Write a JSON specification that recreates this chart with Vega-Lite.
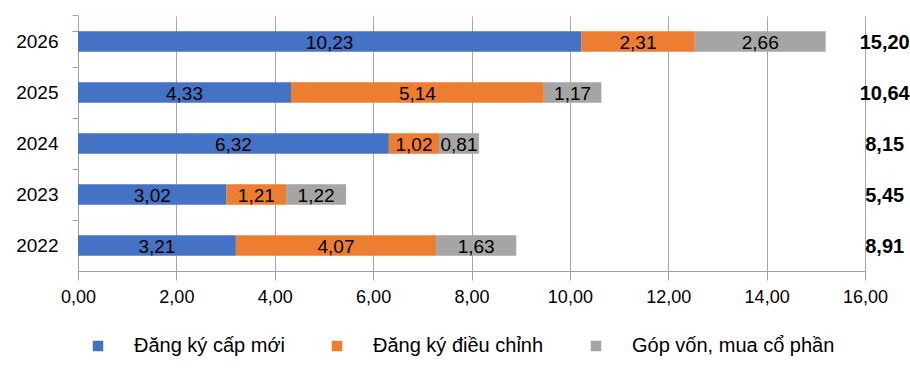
{
  "$schema": "https://vega.github.io/schema/vega-lite/v6.json",
  "autosize": "none",
  "width": 787,
  "height": 255,
  "padding": {"left": 78, "top": 16, "right": 45, "bottom": 113},
  "background": "white",
  "config": {
    "locale": {"number": {"decimal": ",", "thousands": ".", "grouping": [3], "currency": ["", ""]}},
    "view": {"stroke": null},
    "font": "Liberation Sans"
  },
  "datasets": {
    "segs": [
      {"year": "2026", "type": "Đăng ký cấp mới", "order": 1, "value": 10.23},
      {"year": "2026", "type": "Đăng ký điều chỉnh", "order": 2, "value": 2.31},
      {"year": "2026", "type": "Góp vốn, mua cổ phần", "order": 3, "value": 2.66},
      {"year": "2025", "type": "Đăng ký cấp mới", "order": 1, "value": 4.33},
      {"year": "2025", "type": "Đăng ký điều chỉnh", "order": 2, "value": 5.14},
      {"year": "2025", "type": "Góp vốn, mua cổ phần", "order": 3, "value": 1.17},
      {"year": "2024", "type": "Đăng ký cấp mới", "order": 1, "value": 6.32},
      {"year": "2024", "type": "Đăng ký điều chỉnh", "order": 2, "value": 1.02},
      {"year": "2024", "type": "Góp vốn, mua cổ phần", "order": 3, "value": 0.81},
      {"year": "2023", "type": "Đăng ký cấp mới", "order": 1, "value": 3.02},
      {"year": "2023", "type": "Đăng ký điều chỉnh", "order": 2, "value": 1.21},
      {"year": "2023", "type": "Góp vốn, mua cổ phần", "order": 3, "value": 1.22},
      {"year": "2022", "type": "Đăng ký cấp mới", "order": 1, "value": 3.21},
      {"year": "2022", "type": "Đăng ký điều chỉnh", "order": 2, "value": 4.07},
      {"year": "2022", "type": "Góp vốn, mua cổ phần", "order": 3, "value": 1.63}
    ],
    "totals": [
      {"year": "2026", "total": 15.20},
      {"year": "2025", "total": 10.64},
      {"year": "2024", "total": 8.15},
      {"year": "2023", "total": 5.45},
      {"year": "2022", "total": 8.91}
    ]
  },
  "encoding": {
    "y": {
      "field": "year", "type": "nominal",
      "sort": ["2026", "2025", "2024", "2023", "2022"],
      "scale": {"paddingInner": 0.6, "paddingOuter": 0.3},
      "axis": {
        "title": null, "labelFontSize": 19, "labelColor": "#000000", "labelPadding": 14,
        "domainColor": "#a0a0a0", "tickColor": "#a0a0a0", "tickSize": 6,
        "bandPosition": -0.75, "tickExtra": true
      }
    }
  },
  "layer": [
    {
      "data": {"name": "segs"},
      "mark": {"type": "bar"},
      "encoding": {
        "x": {
          "field": "value", "type": "quantitative", "stack": "zero",
          "scale": {"domain": [0, 16]},
          "axis": {
            "title": null, "values": [0, 2, 4, 6, 8, 10, 12, 14, 16],
            "format": ".2f", "labelFontSize": 18, "labelColor": "#000000",
            "labelOverlap": false, "labelBound": false, "labelFlush": false,
            "labelPadding": 8, "tickSize": 9, "tickColor": "#a0a0a0",
            "domainColor": "#a0a0a0", "gridColor": "#a6a6a6", "grid": true
          }
        },
        "color": {
          "field": "type", "type": "nominal",
          "scale": {
            "domain": ["Đăng ký cấp mới", "Đăng ký điều chỉnh", "Góp vốn, mua cổ phần"],
            "range": ["#4472C4", "#ED7D31", "#A5A5A5"]
          },
          "legend": {
            "title": null, "orient": "none", "direction": "horizontal",
            "legendX": 10, "legendY": 320,
            "symbolType": "square", "symbolSize": 110, "symbolStrokeWidth": 0,
            "labelFontSize": 20, "labelColor": "#000000", "labelOffset": 26,
            "columnPadding": 42, "labelLimit": 400
          }
        },
        "order": {"field": "order"}
      }
    },
    {
      "data": {"name": "segs"},
      "transform": [
        {"stack": "value", "groupby": ["year"], "sort": [{"field": "order"}], "as": ["v0", "v1"]},
        {"calculate": "(datum.v0 + datum.v1) / 2", "as": "mid"}
      ],
      "mark": {"type": "text", "fontSize": 19, "color": "#000000", "baseline": "middle", "align": "center", "dy": 1},
      "encoding": {
        "x": {"field": "mid", "type": "quantitative"},
        "text": {"field": "value", "type": "quantitative", "format": ".2f"}
      }
    },
    {
      "data": {"name": "totals"},
      "mark": {"type": "text", "fontSize": 20, "fontWeight": "bold", "color": "#000000", "baseline": "middle", "align": "center", "dy": 1},
      "encoding": {
        "x": {"datum": 16.4, "type": "quantitative"},
        "text": {"field": "total", "type": "quantitative", "format": ".2f"}
      }
    }
  ]
}
